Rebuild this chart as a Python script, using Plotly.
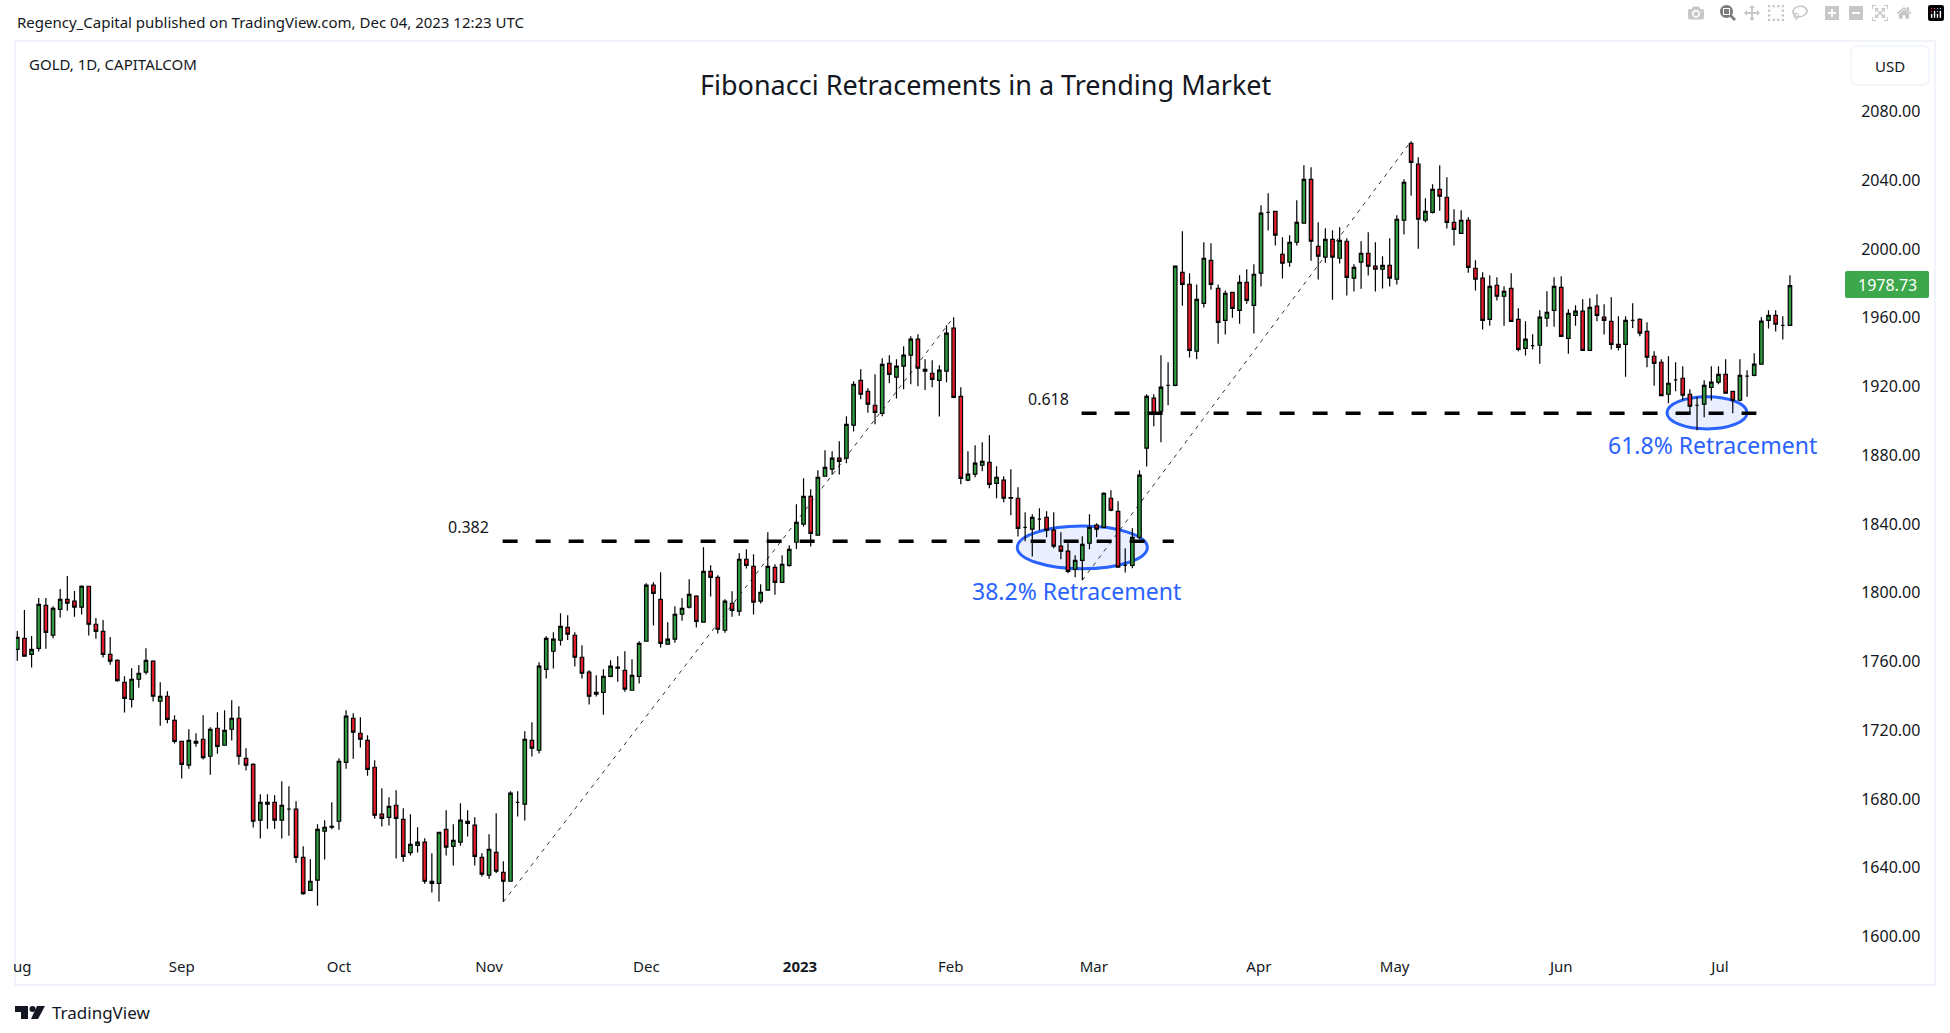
import plotly.graph_objects as go

# --- daily bars (oldest first) ---
opens = [
1767.1,1773.5,1764.2,1767.7,1792.7,1775.3,1790.4,1796.2,1795.1,1791.6,
1803.8,1781.7,1777.6,1764.2,1760.7,1747.9,1738.0,1749.7,1753.8,1760.2,
1736.9,1739.8,1725.8,1713.6,1699.7,1713.6,1714.8,1704.9,1721.2,1711.3,
1720.6,1727.0,1703.7,1700.2,1667.7,1677.0,1678.1,1667.7,1674.1,1674.1,
1646.1,1626.9,1632.8,1661.3,1663.6,1667.1,1701.4,1727.0,1718.3,1714.2,
1698.5,1671.2,1669.4,1676.4,1668.2,1648.9,1653.1,1654.9,1632.2,1631.0,
1662.4,1652.5,1654.9,1667.1,1664.8,1646.1,1635.7,1649.0,1637.4,1632.2,
1678.1,1677.0,1714.2,1708.4,1755.5,1766.0,1772.4,1779.9,1775.3,1762.5,
1753.8,1741.0,1742.1,1751.4,1756.7,1754.9,1743.3,1751.4,1771.8,1804.4,
1796.2,1770.1,1773.0,1787.5,1791.6,1798.0,1782.9,1812.5,1809.0,1778.2,
1793.9,1789.3,1819.5,1815.4,1795.1,1801.5,1814.8,1806.1,1816.0,1829.4,
1839.9,1856.1,1833.5,1867.8,1871.9,1878.3,1878.3,1897.5,1923.6,1917.2,
1909.1,1904.4,1933.5,1925.4,1931.8,1938.2,1947.5,1930.0,1927.7,1923.6,
1928.9,1953.9,1914.3,1865.5,1869.0,1874.2,1875.9,1863.7,1865.5,1855.4,
1855.0,1838.1,1837.0,1842.8,1843.9,1836.4,1827.1,1824.2,1813.7,1818.9,
1828.8,1839.3,1838.1,1855.0,1847.4,1816.0,1816.0,1832.3,1884.1,1913.2,
1905.6,1920.7,1920.7,1986.4,1979.4,1940.5,1968.4,1993.4,1977.1,1958.5,
1974.8,1964.3,1980.6,1967.2,1985.9,2021.3,2021.9,1996.9,1992.3,2003.9,
2015.0,2040.5,2001.5,1995.2,2005.6,1994.6,2004.5,1983.0,1992.3,1997.5,
1990.0,1988.2,1990.5,1982.4,2016.7,2061.5,2049.3,2016.7,2021.3,2034.7,
2030.1,2015.5,2009.1,2016.7,1988.8,1983.0,1959.1,1978.9,1972.5,1977.1,
1959.1,1942.2,1943.8,1944.0,1959.7,1964.3,1977.7,1948.0,1961.4,1963.8,
1941.0,1966.7,1960.3,1957.9,1944.5,1944.5,1958.5,1959.1,1952.1,1937.6,
1934.1,1915.5,1923.8,1924.8,1915.5,1909.1,1909.7,1919.5,1922.5,1927.1,
1917.2,1912.0,1926.0,1926.5,1933.0,1958.5,1961.4,1955.6,1955.6]

highs = [
1777.8,1790.0,1774.9,1797.0,1797.0,1792.1,1802.2,1809.8,1801.1,1804.4,
1803.8,1785.4,1784.2,1774.3,1761.3,1751.4,1756.1,1758.0,1767.7,1760.7,
1747.9,1742.7,1728.7,1713.6,1720.6,1718.3,1728.7,1721.8,1730.5,1731.6,
1737.5,1734.0,1709.5,1700.8,1682.8,1682.8,1682.2,1690.3,1687.4,1678.7,
1652.5,1645.0,1665.3,1667.7,1678.1,1703.7,1731.6,1729.9,1727.6,1717.1,
1702.6,1686.3,1681.0,1685.1,1674.6,1671.2,1663.6,1657.2,1648.5,1660.7,
1673.5,1665.3,1677.6,1673.5,1669.4,1648.5,1659.5,1671.7,1643.8,1684.5,
1684.5,1719.4,1724.7,1759.6,1774.7,1777.0,1788.1,1786.9,1777.0,1769.5,
1754.9,1752.0,1755.5,1760.7,1763.1,1766.0,1761.3,1771.8,1805.5,1806.1,
1811.9,1782.9,1792.2,1796.8,1807.9,1798.6,1826.5,1816.0,1810.2,1796.2,
1800.9,1823.0,1825.3,1822.4,1805.0,1835.2,1816.6,1821.8,1827.6,1851.5,
1866.6,1860.2,1871.3,1882.9,1882.3,1888.2,1902.7,1923.1,1930.0,1919.0,
1927.1,1936.4,1938.2,1935.9,1943.4,1949.2,1950.4,1935.9,1935.3,1932.4,
1955.6,1960.3,1919.6,1882.3,1885.8,1887.6,1891.6,1873.6,1867.8,1871.9,
1861.4,1846.9,1845.7,1849.2,1847.4,1846.9,1835.2,1828.8,1821.8,1832.9,
1845.7,1840.5,1858.5,1859.6,1853.2,1825.9,1837.5,1871.3,1915.5,1915.5,
1938.2,1934.1,1990.0,2010.3,1985.9,1979.4,2003.9,2003.3,1979.4,1975.9,
1974.8,1984.7,1988.2,1991.1,2025.4,2032.4,2021.9,2006.8,2008.0,2028.3,
2048.7,2047.5,2015.5,2012.0,2010.9,2012.6,2006.2,1991.1,2004.5,2009.7,
2003.9,1995.8,2006.2,2019.6,2040.5,2062.7,2053.3,2029.5,2037.6,2048.7,
2041.7,2023.1,2022.5,2018.4,1993.4,1986.4,1984.7,1983.5,1978.3,1985.9,
1965.5,1957.9,1950.4,1964.3,1975.4,1983.5,1984.1,1964.9,1967.2,1970.7,
1971.3,1973.6,1967.8,1971.9,1960.8,1960.8,1968.4,1959.7,1957.4,1940.5,
1935.8,1937.6,1934.1,1931.8,1918.4,1914.1,1923.6,1931.8,1931.8,1935.8,
1917.2,1935.8,1929.5,1939.3,1960.3,1964.3,1964.3,1960.9,1984.7]

lows = [
1760.5,1763.1,1756.5,1765.8,1767.5,1773.5,1785.6,1789.6,1786.1,1787.3,
1775.1,1773.3,1762.3,1758.2,1748.3,1730.3,1733.2,1744.8,1752.4,1736.7,
1722.7,1724.1,1712.3,1691.9,1697.7,1710.5,1703.0,1694.2,1706.4,1711.3,
1714.0,1700.0,1696.6,1663.4,1657.0,1662.8,1662.8,1657.0,1658.7,1643.0,
1624.4,1626.9,1618.0,1644.8,1662.4,1662.2,1697.7,1703.5,1710.0,1693.6,
1668.6,1664.0,1664.6,1645.4,1643.6,1647.1,1648.9,1630.8,1625.6,1620.4,
1647.1,1641.3,1652.9,1658.2,1641.3,1634.9,1633.7,1637.0,1620.2,1632.2,
1669.8,1667.5,1704.7,1706.5,1750.1,1755.9,1769.3,1772.6,1757.1,1750.1,
1735.0,1739.6,1729.1,1750.9,1748.3,1742.5,1743.3,1747.2,1771.8,1780.9,
1768.1,1770.1,1771.0,1783.8,1790.8,1779.8,1782.9,1797.8,1776.3,1776.8,
1786.1,1786.7,1814.1,1787.3,1793.7,1801.5,1798.9,1806.1,1815.2,1825.5,
1838.5,1826.9,1833.5,1867.8,1868.6,1868.8,1875.4,1893.8,1912.6,1904.8,
1898.0,1902.7,1921.9,1913.0,1918.4,1921.3,1920.1,1918.0,1919.6,1902.5,
1922.5,1913.2,1863.1,1864.9,1867.2,1870.7,1860.8,1855.0,1852.7,1845.1,
1832.7,1830.0,1821.1,1836.4,1832.3,1825.9,1819.5,1811.4,1809.0,1807.3,
1825.3,1832.3,1838.1,1847.4,1814.9,1811.8,1814.3,1831.1,1873.4,1896.9,
1887.6,1909.1,1920.1,1967.0,1936.8,1935.8,1966.0,1976.3,1944.9,1950.2,
1960.0,1956.5,1968.2,1950.8,1978.1,2010.7,2002.0,1982.8,1989.7,2002.0,
2015.0,1993.2,1982.2,1992.0,1970.5,1991.5,1972.9,1975.2,1976.8,1984.5,
1975.2,1977.0,1978.1,1979.3,2008.4,2031.0,2000.2,2015.5,2020.6,2022.3,
2011.9,2002.0,2009.1,1986.2,1975.8,1953.1,1955.4,1970.0,1955.4,1957.9,
1940.5,1938.0,1941.5,1933.3,1954.8,1954.8,1949.2,1939.1,1955.4,1941.0,
1941.0,1957.9,1950.2,1941.5,1940.9,1925.7,1954.1,1949.2,1931.2,1920.5,
1914.3,1910.2,1917.2,1912.2,1904.4,1894.5,1902.1,1911.8,1921.3,1916.1,
1904.4,1911.4,1914.1,1926.0,1933.0,1953.7,1952.0,1947.3,1955.6]

closes = [
1774.1,1763.1,1767.1,1793.3,1777.0,1791.0,1796.2,1793.9,1791.6,1803.8,
1781.7,1777.6,1764.2,1760.2,1748.9,1738.6,1749.7,1753.2,1760.7,1739.8,
1739.8,1726.4,1713.6,1700.2,1714.2,1712.5,1704.1,1720.6,1710.7,1720.0,
1727.0,1704.9,1699.7,1667.1,1678.1,1678.1,1667.7,1676.4,1674.1,1646.1,
1625.0,1632.2,1662.4,1663.6,1664.2,1702.0,1728.2,1718.9,1714.8,1697.3,
1670.6,1668.8,1675.8,1668.8,1646.7,1653.7,1654.9,1632.2,1631.0,1660.7,
1652.0,1656.0,1667.7,1665.9,1646.7,1636.3,1650.8,1638.0,1632.2,1683.4,
1678.1,1714.8,1709.6,1757.3,1773.5,1773.0,1780.5,1775.9,1762.5,1753.2,
1739.8,1742.1,1751.4,1757.3,1756.1,1743.9,1752.0,1770.6,1804.4,1799.7,
1770.6,1773.0,1787.5,1791.0,1799.1,1783.4,1812.5,1809.0,1778.8,1795.1,
1789.8,1819.5,1816.0,1794.5,1800.3,1815.4,1806.1,1816.6,1825.3,1841.0,
1856.1,1834.6,1867.2,1873.0,1878.3,1876.5,1898.0,1921.3,1915.5,1909.7,
1905.0,1932.9,1927.1,1931.8,1938.2,1947.5,1930.6,1928.9,1924.2,1929.5,
1951.0,1913.7,1866.6,1869.0,1875.4,1876.5,1863.1,1867.2,1855.0,1855.0,
1837.5,1838.1,1843.9,1842.8,1836.4,1827.1,1824.2,1812.5,1818.9,1828.2,
1838.1,1837.0,1857.9,1848.0,1814.9,1816.0,1832.3,1868.4,1914.3,1904.4,
1919.6,1920.7,1990.0,1979.4,1941.0,1970.7,1994.6,1979.4,1957.3,1974.2,
1965.5,1980.6,1970.1,1985.3,2020.8,2021.3,2008.0,1991.7,2003.9,2015.5,
2040.5,2004.5,1995.8,2005.6,1995.2,2005.0,1983.5,1989.3,1997.5,1990.0,
1988.2,1990.5,1983.0,2017.3,2038.8,2050.4,2017.3,2021.9,2034.7,2030.7,
2015.5,2011.4,2016.7,1989.3,1982.4,1958.5,1978.3,1972.5,1975.4,1957.9,
1941.6,1947.5,1943.8,1960.3,1963.2,1978.3,1949.2,1962.6,1963.8,1941.0,
1966.0,1961.4,1958.5,1944.5,1942.8,1958.5,1958.5,1951.0,1937.0,1933.5,
1914.7,1921.9,1923.8,1914.9,1908.5,1909.1,1920.7,1922.5,1927.1,1916.1,
1912.0,1926.5,1926.0,1933.0,1958.0,1961.4,1956.2,1955.6,1978.73]

bars = list(range(len(closes)))

month_bars = [0.7, 23, 45, 66, 88, 109.5, 130.6, 150.6, 173.7, 192.7, 216, 238.2]
month_labels = ["ug", "Sep", "Oct", "Nov", "Dec", "<b>2023</b>", "Feb", "Mar", "Apr", "May", "Jun", "Jul"]
price_ticks = [1600, 1640, 1680, 1720, 1760, 1800, 1840, 1880, 1920, 1960, 2000, 2040, 2080]
price_labels = ["%.2f" % p for p in price_ticks]

fib_382_bars, fib_382_price = [67.9, 161.8], [1830.0, 1830.0]
fib_618_bars, fib_618_price = [148.9, 243.3], [1904.4, 1904.4]
trend_a_bars, trend_a_price = [68, 131], [1620.2, 1960.3]
trend_b_bars, trend_b_price = [149, 195], [1807.3, 2062.7]
zone_a_bars, zone_a_price = [139.9, 158.1], [1814.0, 1838.8]
zone_b_bars, zone_b_price = [230.8, 242.0], [1895.3, 1914.1]

TITLE = "Fibonacci Retracements in a Trending Market"
FONT = "Noto Sans"
INK = "#131722"
BLUE = "#2962ff"
W, H = 1950, 1033
L, R, T, B = 16, 1850, 42, 950


def px(x):
    return (x - L) / (R - L)


def py(y):
    return 1 - (y - T) / (B - T)


def rounded(x0, y0, x1, y1, r):
    a, b, c, d = px(x0), py(y0), px(x1), py(y1)
    rx, ry = r / (R - L), r / (B - T)
    return (f"M {a+rx} {b} L {c-rx} {b} Q {c} {b} {c} {b-ry} L {c} {d+ry} Q {c} {d} {c-rx} {d} "
            f"L {a+rx} {d} Q {a} {d} {a} {d+ry} L {a} {b-ry} Q {a} {b} {a+rx} {b} Z")


def poly(points):
    return "M " + " L ".join(f"{px(x)} {py(y)}" for x, y in points) + " Z"


fig = go.Figure()
fig.add_trace(go.Candlestick(
    x=bars, open=opens, high=highs, low=lows, close=closes,
    increasing=dict(line=dict(color="#000000", width=1.2), fillcolor="#2f9a3e"),
    decreasing=dict(line=dict(color="#000000", width=1.2), fillcolor="#e31c2b"),
    whiskerwidth=0, hoverinfo="skip", showlegend=False))
for xs, ys in ((fib_382_bars, fib_382_price), (fib_618_bars, fib_618_price)):
    fig.add_trace(go.Scatter(x=xs, y=ys, mode="lines", showlegend=False, hoverinfo="skip",
                             line=dict(color="#000000", width=3.5, dash="15px,18px")))

shapes = []
for xs, ys in ((trend_a_bars, trend_a_price), (trend_b_bars, trend_b_price)):
    shapes.append(dict(type="line", xref="x", yref="y", layer="below",
                       x0=xs[0], x1=xs[1], y0=ys[0], y1=ys[1],
                       line=dict(color="#333333", width=1, dash="4px,5px")))
for xs, ys in ((zone_a_bars, zone_a_price), (zone_b_bars, zone_b_price)):
    shapes.append(dict(type="circle", xref="x", yref="y", layer="below",
                       x0=xs[0], x1=xs[1], y0=ys[0], y1=ys[1],
                       fillcolor="rgba(41,98,255,0.1)", line=dict(color=BLUE, width=3)))
# chart frame
shapes.append(dict(type="rect", xref="paper", yref="paper", x0=px(15), x1=px(1935), y0=py(985), y1=py(41),
                   line=dict(color="#f0f3fa", width=2), layer="below"))
# currency button
shapes.append(dict(type="path", xref="paper", yref="paper", path=rounded(1851, 46, 1929, 85, 6),
                   line=dict(color="#f0f3fa", width=1.5)))
# last price tag
shapes.append(dict(type="path", xref="paper", yref="paper", path=rounded(1845, 271, 1929, 298, 2),
                   fillcolor="#3ca84b", line=dict(width=0)))
# TradingView mark
shapes.append(dict(type="path", xref="paper", yref="paper", fillcolor="#131722", line=dict(width=0),
                   path=poly([(15, 1006), (28, 1006), (28, 1019), (21, 1019), (21, 1012), (15, 1012)])))
shapes.append(dict(type="circle", xref="paper", yref="paper", fillcolor="#131722", line=dict(width=0),
                   x0=px(29.5), x1=px(35.5), y0=py(1012), y1=py(1006)))
shapes.append(dict(type="path", xref="paper", yref="paper", fillcolor="#131722", line=dict(width=0),
                   path=poly([(37, 1006), (45, 1006), (38, 1019), (31, 1019)])))


def note(x, y, text, size, color=INK, anchor="left"):
    return dict(xref="paper", yref="paper", x=px(x), y=py(y), text=text, showarrow=False,
                xanchor=anchor, yanchor="middle", font=dict(family=FONT, size=size, color=color))


annotations = [
    note(15, 22, "Regency_Capital published on TradingView.com, Dec 04, 2023 12:23 UTC", 15),
    note(27, 64, "GOLD, 1D, CAPITALCOM", 15),
    note(986, 84, TITLE, 27, anchor="center"),
    note(1890, 66, "USD", 15, anchor="center"),
    note(1887, 285, "1978.73", 16, color="#ffffff", anchor="center"),
    note(468, 527, "0.382", 16, anchor="center"),
    note(1048, 399, "0.618", 16, anchor="center"),
    note(1076, 591, "38.2% Retracement", 23, color=BLUE, anchor="center"),
    note(1712, 445, "61.8% Retracement", 23, color=BLUE, anchor="center"),
    note(50, 1012, "TradingView", 17),
]

fig.update_layout(
    width=W, height=H, paper_bgcolor="#ffffff", plot_bgcolor="#ffffff",
    margin=dict(l=L, r=W - R, t=T, b=H - B, autoexpand=False),
    font=dict(family=FONT, size=16, color=INK),
    shapes=shapes, annotations=annotations, showlegend=False,
    xaxis=dict(range=[-0.18, 256.4], rangeslider=dict(visible=False), showgrid=False, zeroline=False,
               showline=False, tickmode="array", tickvals=month_bars, ticktext=month_labels,
               ticks="outside", ticklen=3, tickcolor="#ffffff", tickfont=dict(family=FONT, size=15, color=INK)),
    yaxis=dict(range=[1592.2, 2120.4], side="right", showgrid=False, zeroline=False, showline=False,
               tickmode="array", tickvals=price_ticks, ticktext=price_labels,
               ticks="outside", ticklen=7, tickcolor="#ffffff", tickfont=dict(family=FONT, size=16, color=INK)),
)

fig.write_html("out.html", post_script="document.body.style.margin='0';document.body.style.overflow='hidden';")
